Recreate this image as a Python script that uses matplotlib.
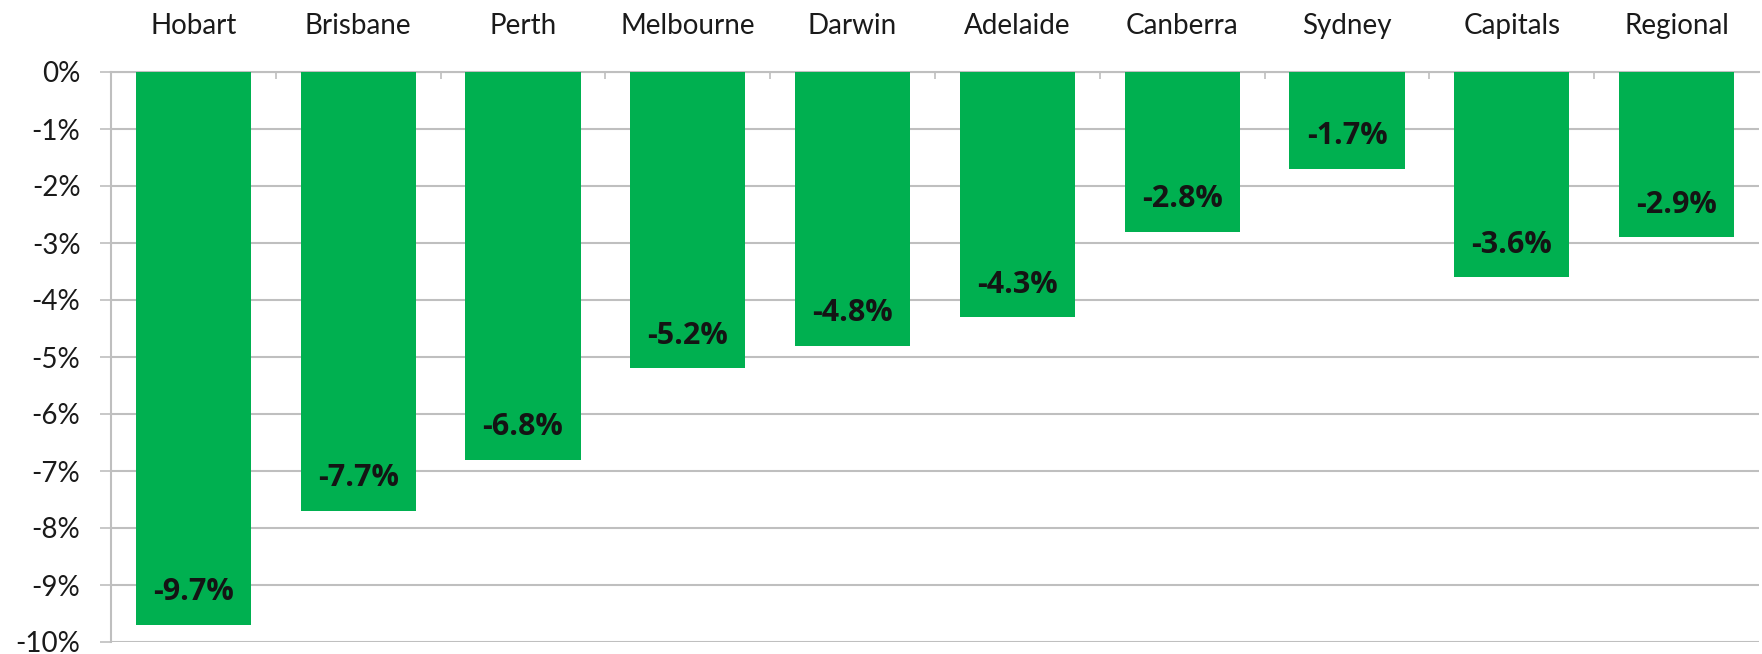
import numpy as np
import matplotlib
matplotlib.use("Agg")
import matplotlib.pyplot as plt
from matplotlib.ticker import FixedLocator

# Data
cities = ["Hobart", "Brisbane", "Perth", "Melbourne", "Darwin", "Adelaide",
          "Canberra", "Sydney", "Capitals", "Regional"]
change = [-9.7, -7.7, -6.8, -5.2, -4.8, -4.3, -2.8, -1.7, -3.6, -2.9]
ytick_vals = list(range(0, -11, -1))
ytick_labels = [f"{v}%" for v in ytick_vals]

plt.rcParams['font.family'] = ['Lato', 'DejaVu Sans']

fig = plt.figure(figsize=(17.62, 6.54), dpi=100)
ax = fig.add_axes([111/1762, 1 - 642/654, (1759 - 111)/1762, (642 - 72)/654])

x = np.arange(len(cities))
ax.bar(x, change, width=0.70, color='#00B050', zorder=3)

for xi, v in zip(x, change):
    ax.text(xi, v + 0.57, f"{v:.1f}%", ha='center', va='center',
            fontsize=22, fontweight='bold', family=['Open Sans', 'DejaVu Sans'],
            color='#141414', zorder=4)

ax.set_xlim(-0.5, len(cities) - 0.5)
ax.set_ylim(-10, 0)

ax.set_yticks(ytick_vals)
ax.set_yticklabels(ytick_labels)
ax.yaxis.grid(True, color='#BFBFBF', linewidth=1.5, zorder=0)
ax.tick_params(axis='y', length=8, width=1.2, color='#BFBFBF', pad=14,
               labelsize=20, labelcolor='#1a1a1a')

ax.xaxis.tick_top()
ax.set_xticks(x)
ax.set_xticklabels(cities)
ax.tick_params(axis='x', which='major', length=0, pad=24, labelsize=20,
               labelcolor='#1a1a1a')
ax.xaxis.set_minor_locator(FixedLocator(np.arange(0.5, len(cities) - 0.5)))
ax.tick_params(axis='x', which='minor', direction='in', length=5, width=1.2,
               color='#BFBFBF', top=True)

for s in ['right', 'bottom']:
    ax.spines[s].set_visible(False)
for s in ['left', 'top']:
    ax.spines[s].set_color('#BFBFBF')
    ax.spines[s].set_linewidth(1.5)

fig.savefig("out.png", dpi=100)
